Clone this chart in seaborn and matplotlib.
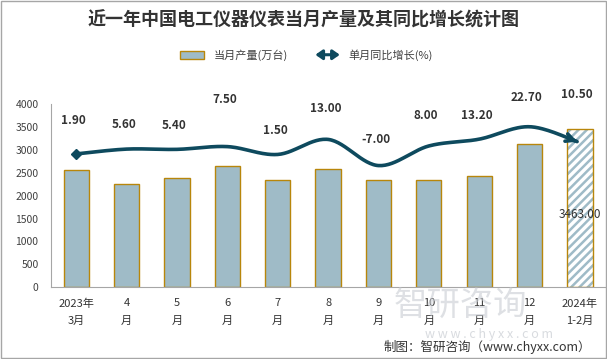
import numpy as np
import pandas as pd
import matplotlib
matplotlib.use("Agg")
import matplotlib.pyplot as plt
import seaborn as sns
from matplotlib.patches import Patch, Rectangle, FancyArrowPatch
from matplotlib.legend_handler import HandlerPatch

# --- data ---
months = ["2023年\n3月", "4\n月", "5\n月", "6\n月", "7\n月", "8\n月",
          "9\n月", "10\n月", "11\n月", "12\n月", "2024年\n1-2月"]
output = [2570, 2265, 2395, 2658, 2352, 2592, 2352, 2352, 2440, 3120, 3463]
growth = [1.90, 5.60, 5.40, 7.50, 1.50, 13.00, -7.00, 8.00, 13.20, 22.70, 10.50]
# vertical offsets (points) of the growth labels, as placed in the original
label_dy = [24, 18, 17, 34, 17, 22, 19, 22, 17, 21, 35]

BAR = "#9FBBC7"
EDGE = "#B8860B"
LINE = "#0E4A5E"
TXT = "#333333"

sns.set_style("white")
plt.rcParams['font.family'] = ['Noto Sans CJK SC', 'DejaVu Sans']
plt.rcParams['hatch.linewidth'] = 1.8

fig = plt.figure(figsize=(6.07, 3.59), dpi=100)
ax = fig.add_axes([0.084, 0.200, 0.913, 0.510])

df = pd.DataFrame({"month": months, "output": output})
sns.barplot(data=df, x="month", y="output", color=BAR, width=0.5,
            edgecolor=EDGE, linewidth=1, saturation=1, ax=ax)

# last period drawn hatched
last = ax.patches[-1]
last.set_facecolor("white")
last.set_edgecolor(BAR)
last.set_hatch("////")
last.set_linewidth(0)
ax.add_patch(Rectangle((last.get_x(), last.get_y()), last.get_width(), last.get_height(),
                       fill=False, edgecolor=EDGE, lw=1, zorder=3))
ax.bar_label(ax.containers[0], labels=[""] * (len(output) - 1) + [f"{output[-1]:.2f}"],
             label_type="center", padding=-5, fontsize=8.5, color=TXT)

ax.set_ylim(0, 4000)
ax.set_yticks(np.arange(0, 4001, 500))
ax.set_xlim(-0.5, len(months) - 0.5)
ax.set_xlabel("")
ax.set_ylabel("")
ax.tick_params(axis="x", length=0, pad=8, labelsize=8, labelcolor=TXT)
ax.tick_params(axis="y", length=0, pad=9, labelsize=7.5, labelcolor="#404040")
for lab in ax.get_xticklabels():
    lab.set_linespacing(1.9)
sns.despine(ax=ax)
for s in ["left", "bottom"]:
    ax.spines[s].set_color("#A6A6A6")
    ax.spines[s].set_linewidth(0.8)

# --- growth line on a hidden secondary axis ---
ax2 = ax.twinx()
ax2.set_ylim(-100, 40)
ax2.axis("off")

xs = np.arange(len(growth), dtype=float)
ys = np.array(growth, dtype=float)


def smooth(x, y, n=30):
    px = np.concatenate([[x[0]], x, [x[-1]]])
    py = np.concatenate([[y[0]], y, [y[-1]]])
    t = np.linspace(0, 1, n, endpoint=False)
    cx, cy = [], []
    for i in range(1, len(px) - 2):
        for p, c in ((px, cx), (py, cy)):
            p0, p1, p2, p3 = p[i - 1], p[i], p[i + 1], p[i + 2]
            c.extend(0.5 * (2 * p1 + (-p0 + p2) * t + (2 * p0 - 5 * p1 + 4 * p2 - p3) * t ** 2
                            + (-p0 + 3 * p1 - 3 * p2 + p3) * t ** 3))
    cx.append(x[-1])
    cy.append(y[-1])
    return np.array(cx), np.array(cy)


cx, cy = smooth(xs, ys)
ax2.plot(cx[:-4], cy[:-4], color=LINE, lw=2.6, solid_capstyle="butt")
ax2.annotate("", xy=(cx[-1], cy[-1]), xytext=(cx[-6], cy[-6]),
             arrowprops=dict(arrowstyle="->", color=LINE, lw=2.6, mutation_scale=14))
ax2.plot(xs[0], ys[0], marker="D", ms=5, color=LINE)

for i, (g, dy) in enumerate(zip(growth, label_dy)):
    ax2.annotate(f"{g:.2f}", (i, g), xytext=(-2, dy), textcoords="offset points",
                 ha="center", va="center", fontsize=8.5, fontweight="bold", color=TXT)

# --- legend ---
arrow_handle = Patch(facecolor=LINE, edgecolor=LINE, lw=2.2)


def make_arrow(legend, orig_handle, xdescent, ydescent, width, height, fontsize):
    return FancyArrowPatch((-xdescent, height / 2 - ydescent),
                           (width - xdescent, height / 2 - ydescent),
                           arrowstyle="<|-|>,head_length=0.5,head_width=0.35",
                           mutation_scale=8, shrinkA=0, shrinkB=0)


fig.legend(handles=[Patch(facecolor=BAR, edgecolor=EDGE, lw=1), arrow_handle],
           labels=["当月产量(万台)", "单月同比增长(%)"],
           loc="center", bbox_to_anchor=(0.505, 0.847), ncol=2, frameon=False,
           fontsize=8, handlelength=2.2, handleheight=0.7, columnspacing=2.5,
           labelcolor="#404040",
           handler_map={arrow_handle: HandlerPatch(patch_func=make_arrow)})

fig.text(0.5, 0.944, "近一年中国电工仪器仪表当月产量及其同比增长统计图",
         ha="center", va="center", fontsize=13, fontweight="bold", color=TXT)
fig.text(0.973, 0.033, "制图：智研咨询（www.chyxx.com）", ha="right", va="center",
         fontsize=9, color=TXT)

# watermark
fig.text(0.758, 0.148, "智研咨询", ha="center", va="center", fontsize=24,
         color="#C8CCD2", alpha=0.6)
fig.text(0.805, 0.067, "w w w . c h y x x . c o m", ha="center", va="center",
         fontsize=9, color="#C8CCD2", alpha=0.7)

fig.add_artist(Rectangle((0.001, 0.002), 0.997, 0.996, transform=fig.transFigure,
                         fill=False, edgecolor="#A6A6A6", lw=1))

plt.savefig("out.png", dpi=100)
